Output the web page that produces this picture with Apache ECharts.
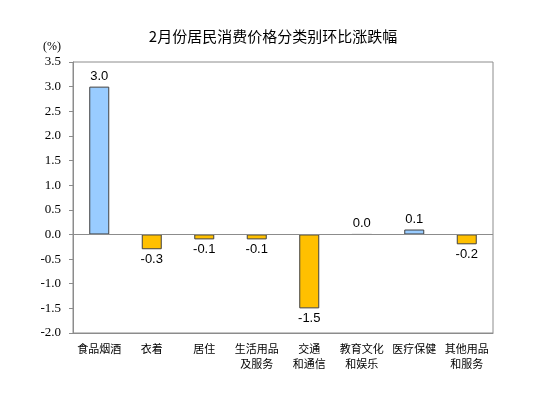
<!DOCTYPE html>
<html>
<head>
<meta charset="utf-8">
<script src="https://cdn.jsdelivr.net/npm/echarts@6/dist/echarts.min.js"></script>
<style>
  html, body { margin: 0; padding: 0; background: #fff; }
  #chart { width: 546px; height: 399px; }
</style>
</head>
<body>
<div id="chart"></div>
<script>
// 分类及环比涨跌幅
var categories = ['食品烟酒', '衣着', '居住', '生活用品\n及服务', '交通\n和通信', '教育文化\n和娱乐', '医疗保健', '其他用品\n和服务']
var values = [3.0, -0.3, -0.1, -0.1, -1.5, 0.0, 0.1, -0.2]
var yTicks = { min: -2.0, max: 3.5, interval: 0.5 }

var upColor = '#99CCFF'
var downColor = '#FFC000'

var chart = echarts.init(document.getElementById('chart'))

var option = {
    animation: false,
    title: {
        text: '2月份居民消费价格分类别环比涨跌幅',
        left: 'center',
        top: 24,
        textStyle: {
            fontFamily: 'Noto Sans CJK SC',
            fontSize: 15,
            fontWeight: 'normal',
            color: '#000'
        }
    },
    grid: {
        left: 73,
        right: 53,
        top: 62,
        bottom: 66,
        containLabel: false,
        outerBoundsMode: 'none',
        show: true,
        borderColor: '#8c8c8c',
        borderWidth: 1
    },
    xAxis: {
        type: 'category',
        data: categories,
        axisLine: {
            onZero: false,
            lineStyle: { color: '#8c8c8c' }
        },
        axisTick: { show: false },
        axisLabel: {
            interval: 0,
            margin: 8,
            color: '#000',
            fontFamily: 'Noto Sans CJK SC',
            fontSize: 11,
            lineHeight: 15
        }
    },
    yAxis: {
        type: 'value',
        min: yTicks.min,
        max: yTicks.max,
        interval: yTicks.interval,
        name: '(%)',
        nameLocation: 'end',
        nameGap: 9,
        nameTextStyle: {
            color: '#000',
            fontFamily: 'Liberation Serif',
            fontSize: 12,
            align: 'right',
            padding: [0, 12, 0, 0]
        },
        axisLine: { show: true, lineStyle: { color: '#8c8c8c' } },
        axisTick: { show: true, length: 4, lineStyle: { color: '#8c8c8c' } },
        splitLine: { show: false },
        axisLabel: {
            color: '#000',
            fontFamily: 'Liberation Serif',
            fontSize: 13,
            margin: 12,
            formatter: function (v) { return v.toFixed(1) }
        }
    },
    series: [
        {
            type: 'bar',
            barWidth: 20,
            data: values.map(function (v) {
                return {
                    value: v,
                    itemStyle: { color: v >= 0 ? upColor : downColor },
                    label: { position: v < 0 ? 'bottom' : 'top' }
                }
            }),
            itemStyle: {
                borderColor: '#404040',
                borderWidth: 1
            },
            label: {
                show: true,
                distance: 4,
                color: '#000',
                fontFamily: 'Liberation Sans',
                fontSize: 13,
                formatter: function (p) { return p.value.toFixed(1) }
            },
            // 零值线
            markLine: {
                silent: true,
                symbol: 'none',
                label: { show: false },
                lineStyle: { color: '#8c8c8c', type: 'solid', width: 1 },
                data: [{ yAxis: 0 }]
            }
        }
    ]
}

chart.setOption(option)
</script>
</body>
</html>
